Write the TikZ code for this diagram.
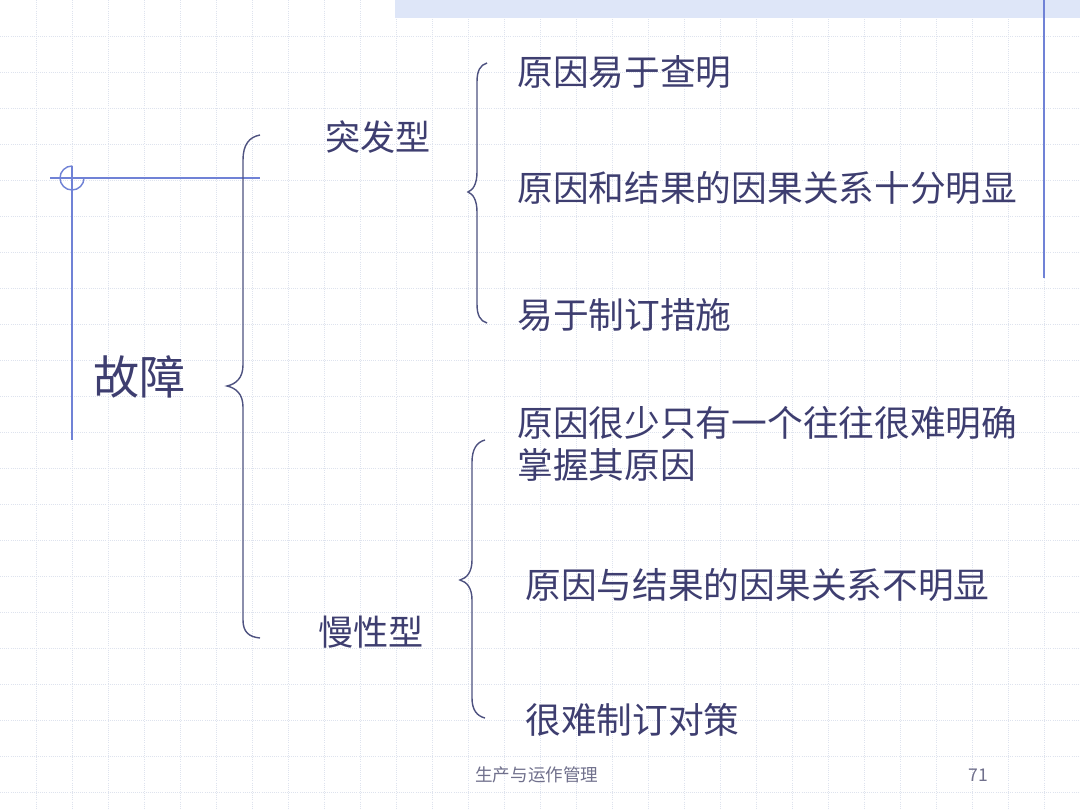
\documentclass[tikz,border=0pt]{standalone}
\usepackage{fontspec}
\newfontfamily\cjk{Noto Sans CJK SC}
\usepackage{xcolor}
\usetikzlibrary{positioning}
\definecolor{ink}{RGB}{62,62,112}
\definecolor{bracec}{RGB}{78,82,128}
\definecolor{rulec}{RGB}{112,130,214}
\definecolor{bandc}{RGB}{222,230,248}
\definecolor{gridc}{RGB}{222,227,238}
\definecolor{footc}{RGB}{112,112,140}

\begin{document}
\begin{tikzpicture}[
  x=0.025cm, y=-0.025cm,
  item/.style={anchor=west, inner sep=0pt, text=ink,
               font=\cjk\fontsize{25.4}{30}\selectfont, align=left},
  kind/.style={anchor=west, inner sep=0pt, text=ink,
               font=\cjk\fontsize{25}{30}\selectfont},
  foot/.style={anchor=west, inner sep=0pt, text=footc,
               font=\cjk\fontsize{12.5}{15}\selectfont},
  brace/.style={draw=bracec, line width=1pt},
  rule/.style={draw=rulec, line width=1pt}
]
\useasboundingbox (0,0) rectangle (1080,810);

%─── Background grid and band ─────────────────────────────────────────────
\fill[white] (0,0) rectangle (1080,810);
\foreach \g in {36,72,...,1080}
  \draw[gridc, densely dotted, line width=0.5pt] (\g,0) -- (\g,810);
\foreach \g in {36,72,...,810}
  \draw[gridc, densely dotted, line width=0.5pt] (0,\g) -- (1080,\g);
\fill[bandc] (395,0) rectangle (1080,18);
\draw[rule] (1044,0) -- (1044,278);

% title rule with ring
\draw[rule] (50,178) -- (260,178);
\draw[rule] (72,166) -- (72,440);
\draw[rule] (72,166) arc[start angle=90, end angle=360, radius=0.3cm];

%─── Root ─────────────────────────────────────────────────────────────────
\node[anchor=west, inner sep=0pt, text=ink,
      font=\cjk\fontsize{32.8}{36}\selectfont] (fault) at (93,377) {故障};

\draw[brace] (260,135) .. controls (249,137) and (243,145) .. (243,160)
  -- (243,365) .. controls (243,378) and (236,384) .. (227,386)
  .. controls (236,388) and (243,394) .. (243,407)
  -- (243,620) .. controls (243,632) and (249,637) .. (260,638);

%─── Sudden type ──────────────────────────────────────────────────────────
\node[kind] (sudden) at (325,137) {突发型};

\draw[brace] (487,63) .. controls (480,65) and (477,71) .. (477,82)
  -- (477,172) .. controls (477,184) and (473,190) .. (468,192)
  .. controls (473,194) and (477,200) .. (477,212)
  -- (477,304) .. controls (477,315) and (480,321) .. (487,323);

\node[item] (s1) at (517,72)  {原因易于查明};
\node[item] (s2) at (517,188) {原因和结果的因果关系十分明显};
\node[item] (s3) at (517,315) {易于制订措施};

%─── Chronic type ─────────────────────────────────────────────────────────
\node[kind] (chronic) at (318,632) {慢性型};

\draw[brace] (485,440) .. controls (477,442) and (472,449) .. (472,462)
  -- (472,560) .. controls (472,572) and (467,578) .. (460,580)
  .. controls (467,582) and (472,588) .. (472,600)
  -- (472,698) .. controls (472,710) and (477,716) .. (485,718);

\node[item] (c1) at (517,444) {原因很少只有一个往往很难明确\\掌握其原因};
\node[item] (c2) at (525,585) {原因与结果的因果关系不明显};
\node[item] (c3) at (525,720) {很难制订对策};

%─── Footer ───────────────────────────────────────────────────────────────
\node[foot] (course) at (475,775) {生产与运作管理};
\node[foot] (page) at (968,775) {71};

\end{tikzpicture}
\end{document}
